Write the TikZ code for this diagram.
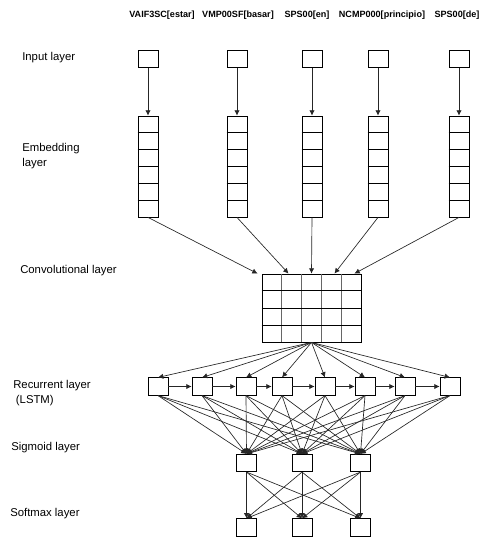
\documentclass[tikz,border=0pt]{standalone}
\usepackage{fontspec}
\setmainfont{Liberation Sans}
\usetikzlibrary{arrows.meta,calc}

\begin{document}
\begin{tikzpicture}[
    x=0.75pt,y=-0.75pt,
    unit/.style={rectangle,draw,fill=white,line width=0.6pt,
      minimum width=15pt,minimum height=13pt,inner sep=0pt},
    embcol/.style={rectangle,draw,fill=white,line width=0.6pt,
      minimum width=15pt,minimum height=75.75pt,inner sep=0pt},
    convgrid/.style={rectangle,draw,fill=white,line width=0.6pt,
      minimum width=74.25pt,minimum height=51pt,inner sep=0pt},
    link/.style={-{Latex[length=4pt,width=4pt]},draw=black!85,line width=0.5pt},
    layername/.style={anchor=west,align=left,inner sep=0pt,
      font=\fontsize{8.5}{11}\selectfont},
    token/.style={font=\bfseries\fontsize{6.8}{8}\selectfont}
  ]
  \useasboundingbox (0,0) rectangle (479,537);

  % layer names
  \node[layername] (nInput) at (22,58) {Input layer};
  \node[layername] (nEmb) at (22,156) {Embedding\\layer};
  \node[layername] (nConv) at (20,271) {Convolutional layer};
  \node[layername] (nRec) at (13,393) {Recurrent layer\\\hspace*{2pt}(LSTM)};
  \node[layername] (nSig) at (11,448) {Sigmoid layer};
  \node[layername] (nSoft) at (10,514) {Softmax layer};

  % tokens, inputs and embeddings
  \foreach \i/\x/\lx/\word in {1/148/162/{VAIF3SC[estar]},2/237/238/{VMP00SF[basar]},
      3/312/307/{SPS00[en]},4/378/382/{NCMP000[principio]},5/459/457/{SPS00[de]}} {
    \node[token] (tok\i) at (\lx,15) {\word};
    \node[unit] (in\i) at (\x,59) {};
    \node[embcol] (emb\i) at (\x,166.5) {};
    \foreach \k in {1,...,5}
      \draw[line width=0.6pt] ($(emb\i.north west)!\k/6!(emb\i.south west)$)
        -- ($(emb\i.north east)!\k/6!(emb\i.south east)$);
    \draw[link] (in\i) -- (emb\i);
  }

  % convolution
  \node[convgrid] (conv) at (311.5,308) {};
  \foreach \k in {1,...,4}
    \draw[line width=0.6pt,black!60] ($(conv.north west)!\k/5!(conv.north east)$)
      -- ($(conv.south west)!\k/5!(conv.south east)$);
  \foreach \k in {1,...,3}
    \draw[line width=0.6pt] ($(conv.north west)!\k/4!(conv.south west)$)
      -- ($(conv.north east)!\k/4!(conv.south east)$);

  \draw[link] (emb1.south) -- ($(conv.north west)!-0.04!(conv.north east)$);
  \draw[link] (emb2.south) -- ($(conv.north west)!0.27!(conv.north east)$);
  \draw[link] (emb3.south) -- (conv.north);
  \draw[link] (emb4.south) -- ($(conv.north west)!0.73!(conv.north east)$);
  \draw[link] (emb5.south) -- ($(conv.north west)!0.93!(conv.north east)$);

  % recurrent layer
  \foreach \i/\x in {1/158,2/202,3/246,4/282,5/325,6/365,7/405,8/450} {
    \node[unit] (rec\i) at (\x,386.5) {};
    \draw[link] (conv.south) -- (rec\i.north);
  }
  \foreach \i [count=\j from 2] in {1,...,7}
    \draw[link] (rec\i) -- (rec\j);

  % sigmoid and softmax
  \foreach \i/\x in {1/246.5,2/302,3/360.5} {
    \node[unit] (sig\i) at (\x,463) {};
    \node[unit] (soft\i) at (\x,527.5) {};
  }
  \foreach \i in {1,...,8}
    \foreach \j in {1,2,3}
      \draw[link] (rec\i.south) -- (sig\j.north);
  \foreach \i in {1,2,3}
    \foreach \j in {1,2,3}
      \draw[link] (sig\i.south) -- (soft\j.north);
\end{tikzpicture}
\end{document}
